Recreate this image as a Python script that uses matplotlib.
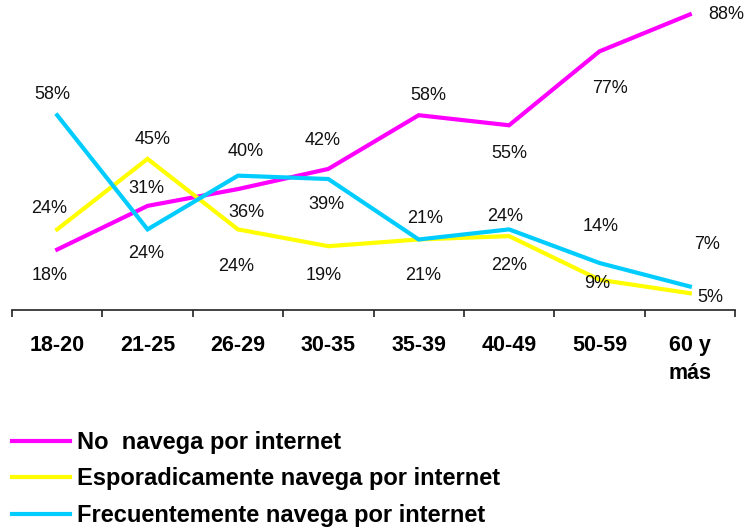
import numpy as np
import matplotlib
matplotlib.use("Agg")
import matplotlib.pyplot as plt

plt.rcParams['font.family'] = ['Liberation Sans', 'DejaVu Sans']

categories = ["18-20", "21-25", "26-29", "30-35", "35-39", "40-49", "50-59", "60 y\nmás"]
no_navega = [18, 31, 36, 42, 58, 55, 77, 88]
esporadica = [24, 45, 24, 19, 21, 22, 9, 5]
frecuente = [58, 24, 40, 39, 21, 24, 14, 7]

series_names = ["No  navega por internet",
                "Esporadicamente navega por internet",
                "Frecuentemente navega por internet"]
colors = ["#FF00FF", "#FFFF00", "#00CCFF"]

# label offsets in pixels (dx, dy) from each point
offsets = [
    [(-8, -26), (-1, 17), (8, -23), (-6, 28), (10, 20), (0, -28), (11, -37), (36, 0)],
    [(-8, 21), (5, 19), (-2, -37), (-5, -29), (4, -36), (0, -29), (-2, -4), (20, -4)],
    [(-5, 21), (-1, -24), (8, 24), (-2, -25), (6, 21), (-4, 13), (1, 36), (17, 42)],
]

fig = plt.figure(figsize=(7.48, 5.30), dpi=100)
ax = fig.add_axes([12 / 748, 220 / 530, 723 / 748, 310 / 530])

x = np.arange(len(categories))
all_series = [no_navega, esporadica, frecuente]
for vals, name, col, offs in zip(all_series, series_names, colors, offsets):
    ax.plot(x, vals, color=col, lw=3, label=name, solid_joinstyle='miter')
    for xi, v, (dx, dy) in zip(x, vals, offs):
        ax.annotate(f"{v}%", xy=(xi, v), xytext=(dx, dy), textcoords='offset pixels',
                    ha='center', va='center', fontsize=13, color='#111111')

ax.set_xlim(-0.5, len(categories) - 0.5)
ax.set_ylim(0, 92.3)
ax.set_yticks([])
for s in ['left', 'right', 'top']:
    ax.spines[s].set_visible(False)
ax.spines['bottom'].set_linewidth(1.2)
ax.spines['bottom'].set_color('#222222')

ax.set_xticks(x)
ax.set_xticklabels(categories, fontsize=15.5, fontweight='bold', linespacing=1.45)
ax.set_xticks(np.arange(-0.5, len(categories), 1), minor=True)
ax.tick_params(axis='x', which='major', length=0, pad=18)
ax.tick_params(axis='x', which='minor', length=5, width=1.2, color='#222222', direction='out')
for lbl in ax.get_xticklabels():
    lbl.set_verticalalignment('top')

fig.legend(loc='upper left', bbox_to_anchor=(12 / 748, 99 / 530), frameon=False,
           prop={'size': 17, 'weight': 'bold'}, handlelength=2.45, handletextpad=0.3,
           labelspacing=0.57, borderpad=0, borderaxespad=0)

fig.savefig("out.png", dpi=100)
